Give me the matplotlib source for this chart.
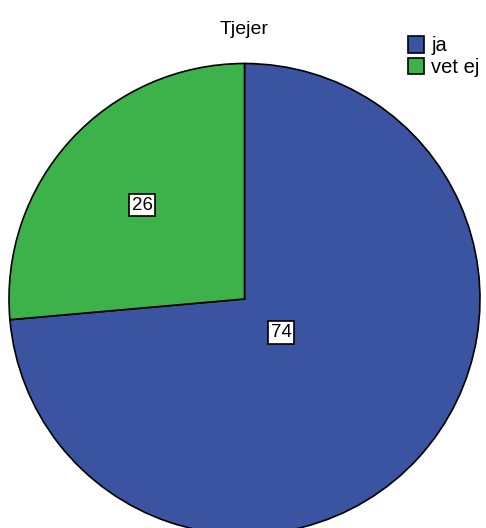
import matplotlib
matplotlib.use("Agg")
import matplotlib.pyplot as plt
import numpy as np

plt.rcParams['font.family'] = ['Liberation Sans', 'DejaVu Sans']

title = "Tjejer"
categories = ["ja", "vet ej"]
values = [73.6, 26.4]
labels = ["74", "26"]
colors = ["#3A54A2", "#3DB14A"]
label_dist = [0.21, 0.59]

W, H = 486, 528
fig = plt.figure(figsize=(W/100, H/100), dpi=100)
cx, cy, R = 244.5, 299, 235.5
ax = fig.add_axes([(cx-R)/W, (H-cy-R)/H, 2*R/W, 2*R/H])
wedges, _ = ax.pie(values, colors=colors, startangle=90, counterclock=False,
                   radius=1, wedgeprops=dict(edgecolor="black", linewidth=1.2))
ax.set_xlim(-1, 1)
ax.set_ylim(-1, 1)
ax.set_axis_off()

for w, t, d in zip(wedges, labels, label_dist):
    mid = np.deg2rad((w.theta1 + w.theta2) / 2)
    ax.text(d*np.cos(mid), d*np.sin(mid), t, ha="center", va="center",
            fontsize=13.5, color="black",
            bbox=dict(boxstyle="square,pad=0.15", facecolor="white", edgecolor="black", linewidth=1.2))

fig.text(cx/W, 1-29/H, title, ha="center", va="center", fontsize=14)

leg = fig.legend(wedges, categories, loc="upper left", bbox_to_anchor=(408/W, 1-36/H),
                 frameon=False, fontsize=14.5, handlelength=0.8, handleheight=0.9,
                 handletextpad=0.35, labelspacing=0.12, borderpad=0, borderaxespad=0)

fig.savefig("out.png", dpi=100)
